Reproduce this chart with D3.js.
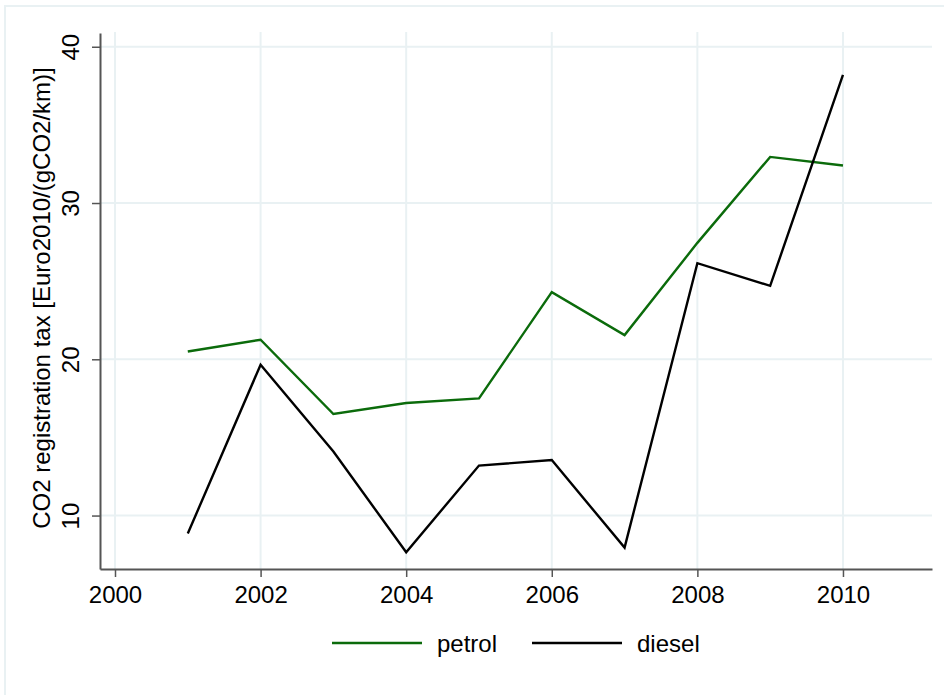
<!DOCTYPE html>
<html>
<head>
<meta charset="utf-8">
<script src="https://cdnjs.cloudflare.com/ajax/libs/d3/7.8.5/d3.min.js"></script>
<style>
  body { margin: 0; background: #fff; }
  text { font-family: "Liberation Sans", Arial, sans-serif; fill: #000; }
</style>
</head>
<body>
<div id="vis"></div>
<script>
// data
var years = [2001, 2002, 2003, 2004, 2005, 2006, 2007, 2008, 2009, 2010];
var petrol = [20.5, 21.25, 16.5, 17.2, 17.5, 24.3, 21.55, 27.45, 32.95, 32.4];
var diesel = [8.85, 19.65, 14.1, 7.65, 13.2, 13.55, 7.95, 26.15, 24.7, 38.2];
var xTicks = [2000, 2002, 2004, 2006, 2008, 2010];
var yTicks = [10, 20, 30, 40];
var seriesNames = ["petrol", "diesel"];
var seriesColors = ["#0b6b0b", "#000000"];

var width = 944;
var height = 695;
var margin = {top : 33, right : 12, bottom : 126, left : 100};
var vg_width = width - margin.left - margin.right;
var vg_height = height - margin.top - margin.bottom;
var gridColor = "#e9f1f3";
var axisColor = "#555555";

var chart = d3.select('#vis').append('svg')
    .attr("width", width)
    .attr("height", height);

// light outer frame of the graph region
chart.append("rect")
    .attr("x", 5).attr("y", 6)
    .attr("width", width + 20).attr("height", height + 20)
    .attr("fill", "none")
    .attr("stroke", gridColor)
    .attr("stroke-width", 2);

var x_scale = d3.scaleLinear().domain([1999.794, 2011.223]).range([0, vg_width]);
var y_scale = d3.scaleLinear().domain([6.58, 40.88]).range([vg_height, 0]);

var vis = chart.append("g")
    .attr("transform", "translate(" + margin.left + "," + margin.top + ")");

// grid lines
vis.append("g").selectAll("line.hgrid")
    .data(yTicks)
    .enter()
    .append("line")
    .attr("x1", 0).attr("x2", vg_width)
    .attr("y1", function(d){ return y_scale(d); })
    .attr("y2", function(d){ return y_scale(d); })
    .attr("stroke", gridColor)
    .attr("stroke-width", 2);

vis.append("g").selectAll("line.vgrid")
    .data(xTicks)
    .enter()
    .append("line")
    .attr("y1", -1).attr("y2", vg_height)
    .attr("x1", function(d){ return x_scale(d); })
    .attr("x2", function(d){ return x_scale(d); })
    .attr("stroke", gridColor)
    .attr("stroke-width", 2);

// lines for each series
var line = d3.line()
    .x(function(d){ return x_scale(d[0]); })
    .y(function(d){ return y_scale(d[1]); });

[petrol, diesel].forEach(function(vals, i){
    vis.append("path")
        .datum(d3.zip(years, vals))
        .attr("d", line)
        .attr("fill", "none")
        .attr("stroke", seriesColors[i])
        .attr("stroke-width", 2.4)
        .attr("stroke-linejoin", "miter");
});

// x axis
var X = d3.axisBottom(x_scale).tickValues(xTicks).tickFormat(d3.format("d"))
    .tickSize(8).tickSizeOuter(0).tickPadding(9);
var xg = vis.append("g")
    .attr("transform", "translate(0," + vg_height + ")")
    .call(X);
xg.select(".domain").attr("stroke", axisColor).attr("stroke-width", 2);
xg.selectAll(".tick line").attr("stroke", axisColor).attr("stroke-width", 1.5);
xg.selectAll("text")
    .style("font-size", "24px")
    .style("font-family", "Liberation Sans, Arial, sans-serif")
    .attr("fill", "#000");

// y axis, labels turned like Stata
var Y = d3.axisLeft(y_scale).tickValues(yTicks).tickSize(8).tickSizeOuter(0);
var yg = vis.append("g").call(Y);
yg.select(".domain").attr("stroke", axisColor).attr("stroke-width", 2);
yg.selectAll(".tick line").attr("stroke", axisColor).attr("stroke-width", 1.5);
yg.selectAll("text")
    .attr("x", null).attr("dy", null)
    .attr("transform", "translate(-21,0) rotate(-90)")
    .style("text-anchor", "middle")
    .style("font-size", "24px")
    .style("font-family", "Liberation Sans, Arial, sans-serif")
    .attr("fill", "#000");

// y axis title
chart.append("text")
    .attr("transform", "translate(50,298) rotate(-90)")
    .style("text-anchor", "middle")
    .style("font-size", "24px")
    .text("CO2 registration tax [Euro2010/(gCO2/km)]");

// legend
var legendX = [332, 532];
var legend = chart.append("g").selectAll("g")
    .data(seriesNames)
    .enter()
    .append("g")
    .attr("transform", function(d, i){ return "translate(" + legendX[i] + ",643)"; });
legend.append("line")
    .attr("x1", 0).attr("x2", 90)
    .attr("stroke", function(d, i){ return seriesColors[i]; })
    .attr("stroke-width", 2.4);
legend.append("text")
    .attr("x", 105).attr("y", 9)
    .style("font-size", "24px")
    .text(function(d){ return d; });
</script>
</body>
</html>
